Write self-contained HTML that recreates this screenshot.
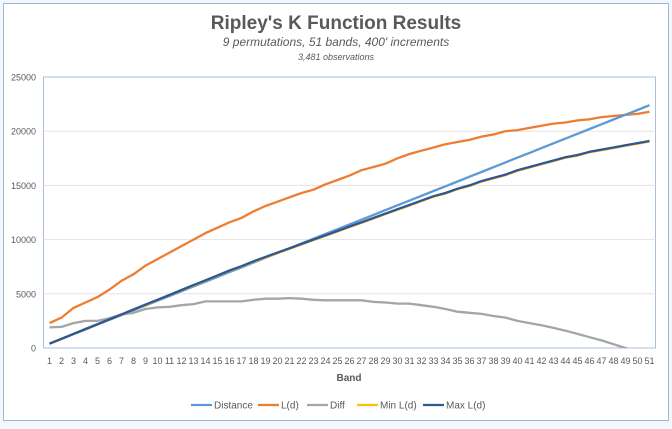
<!DOCTYPE html>
<html><head><meta charset="utf-8"><style>
html,body{margin:0;padding:0;background:#fff;}
svg{display:block;font-family:"Liberation Sans",sans-serif;}
</style></head><body>
<svg id="chart" width="672" height="429" viewBox="0 0 672 429">
<rect x="0" y="0" width="672" height="429" fill="#f4f7fb"/>
<rect x="3.5" y="3.5" width="665" height="417" fill="#fff" stroke="#9fb6d3" stroke-width="1"/>
<text x="336" y="29" text-anchor="middle" font-size="19" font-weight="bold" fill="#595959">Ripley's K Function Results</text>
<text x="336" y="46" text-anchor="middle" font-size="12" font-style="italic" fill="#595959">9 permutations, 51 bands, 400' increments</text>
<text x="336" y="60" text-anchor="middle" font-size="9" font-style="italic" fill="#595959">3,481 observations</text>
<rect x="43.5" y="77" width="612" height="271" fill="none" stroke="#a9c0dc" stroke-width="1"/>
<g id="grid"></g><g id="yt"></g><g id="xt"></g><g id="series"></g>
<text x="349" y="381" text-anchor="middle" font-size="10" font-weight="bold" fill="#595959">Band</text>
<g id="legend"></g>
</svg>
<script>
const categories=[];for(let i=1;i<=51;i++)categories.push(i);
const yTicks=[0,5000,10000,15000,20000,25000];
const seriesNames=["Distance","L(d)","Diff","Min L(d)","Max L(d)"];
const seriesColors=["#5b9bd5","#ed7d31","#a5a5a5","#ffc000","#2e5597"];
const distance=[400,840,1280,1720,2160,2600,3040,3480,3920,4360,4800,5240,5680,6120,6560,7000,7440,7880,8320,8760,9200,9640,10080,10520,10960,11400,11840,12280,12720,13160,13600,14040,14480,14920,15360,15800,16240,16680,17120,17560,18000,18440,18880,19320,19760,20200,20640,21080,21520,21960,22400];
const ld=[2300,2800,3700,4200,4700,5400,6200,6800,7600,8200,8800,9400,10000,10600,11100,11600,12000,12600,13100,13500,13900,14300,14600,15100,15500,15900,16400,16700,17000,17500,17900,18200,18500,18800,19000,19200,19500,19700,20000,20100,20300,20500,20700,20800,21000,21100,21300,21400,21500,21600,21800];
const diff=[1900,1950,2300,2500,2500,2750,3100,3250,3600,3750,3800,3950,4050,4300,4300,4300,4300,4450,4550,4550,4600,4550,4450,4400,4400,4400,4400,4250,4200,4100,4100,3950,3800,3600,3350,3250,3150,2950,2800,2500,2300,2100,1850,1600,1300,1000,700,350,0,-350,-700];
const minLd=[400,850,1300,1750,2200,2650,3090,3530,3970,4420,4870,5320,5770,6220,6670,7110,7510,7950,8350,8750,9150,9550,9950,10350,10750,11150,11550,11950,12350,12750,13150,13550,13950,14250,14650,14950,15350,15650,15950,16350,16650,16950,17250,17550,17750,18050,18250,18450,18650,18850,19050];
const maxLd=[400,850,1300,1750,2200,2650,3100,3550,4000,4450,4900,5350,5800,6250,6700,7150,7550,8000,8400,8800,9200,9600,10000,10400,10800,11200,11600,12000,12400,12800,13200,13600,14000,14300,14700,15000,15400,15700,16000,16400,16700,17000,17300,17600,17800,18100,18300,18500,18700,18900,19100];
const seriesData=[distance,ld,diff,minLd,maxLd];
const NS="http://www.w3.org/2000/svg";
const X0=43.5,X1=655.5,Y0=348,Y1=77,YMAX=25000;
const xs=i=>X0+(X1-X0)/categories.length*(i+0.5);
const ys=v=>Y0-(v/YMAX)*(Y0-Y1);
function mk(t,a,p){const e=document.createElementNS(NS,t);for(const k in a)e.setAttribute(k,a[k]);p.appendChild(e);return e;}
const grid=document.getElementById('grid'),yt=document.getElementById('yt'),xt=document.getElementById('xt');
yTicks.forEach(v=>{
 if(v>0&&v<YMAX){const l=mk('line',{x1:X0,x2:X1,y1:ys(v),y2:ys(v),stroke:'#e3e3e3','stroke-width':1},grid);
 
 }
 const t=mk('text',{x:36,y:ys(v)+3.5,'text-anchor':'end','font-size':9,fill:'#595959'},yt);t.textContent=v;
 
 
});
categories.forEach((c,i)=>{
 const t=mk('text',{x:xs(i),y:364,'text-anchor':'middle','font-size':9,fill:'#595959'},xt);t.textContent=c;
 
 
});
mk('clipPath',{id:'clp'},document.getElementById('chart')).appendChild(document.createElementNS(NS,'rect'));
const cr=document.querySelector('#clp rect');cr.setAttribute('x',X0);cr.setAttribute('y',Y1);cr.setAttribute('width',X1-X0);cr.setAttribute('height',Y0-Y1);
const sg=document.getElementById('series');
[2,1,0,3,4].forEach(s=>{
 const d=seriesData[s].map((v,i)=>(i?'L':'M')+xs(i).toFixed(1)+' '+ys(v).toFixed(1)).join(' ');
 const p=mk('path',{d:d,fill:'none',stroke:seriesColors[s],'stroke-width':2.3,'stroke-linejoin':'round','clip-path':'url(#clp)'},sg);
 
 
});
const lg=document.getElementById('legend');
const lx=[191,258,307,357,423];
seriesNames.forEach((n,s)=>{
 const g=mk('g',{},lg);
 
 
 mk('line',{x1:lx[s],x2:lx[s]+21,y1:405,y2:405,stroke:seriesColors[s],'stroke-width':2.3},g);
 const t=mk('text',{x:lx[s]+23,y:408.5,'font-size':10,fill:'#595959'},g);t.textContent=n;
});
</script>
</body></html>
